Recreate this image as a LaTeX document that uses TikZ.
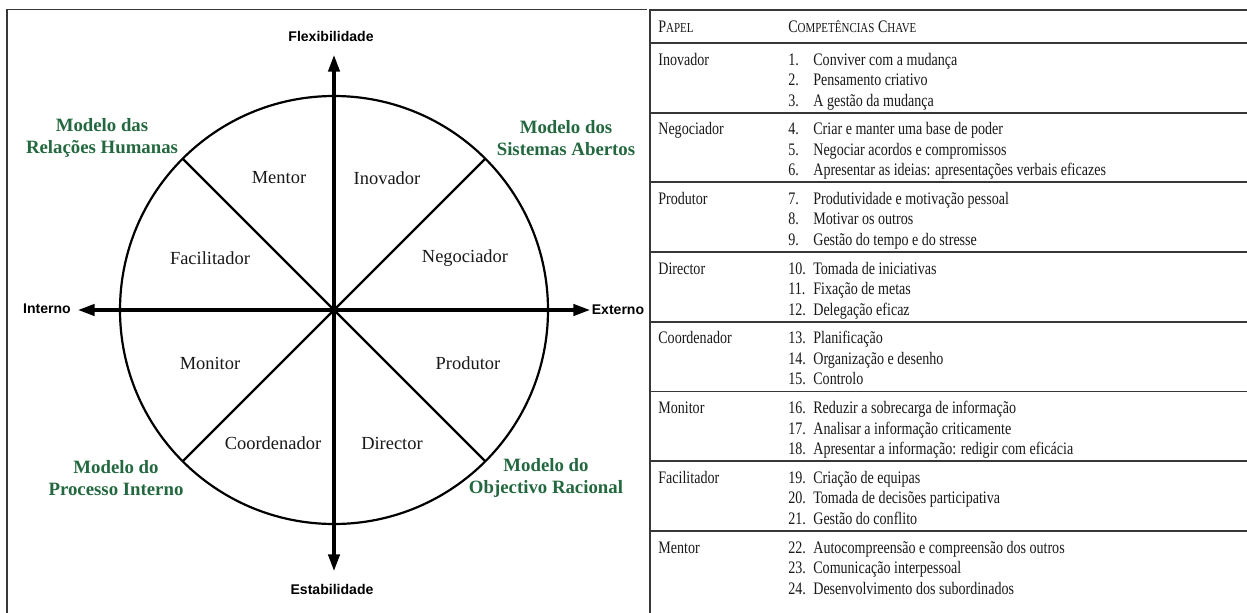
\documentclass[tikz,border=0pt]{standalone}
\usepackage{fontspec}
\setmainfont{Liberation Serif}
\newfontfamily\axisfont{Liberation Sans}
\newfontfamily\tablefont[FakeStretch=0.8]{Liberation Serif}
\usetikzlibrary{arrows.meta}
\definecolor{modelgreen}{RGB}{36,104,64}
\definecolor{inkgray}{RGB}{25,25,25}
\definecolor{rulegray}{RGB}{55,55,55}
\newcommand{\fakesc}[2]{#1{\fontsize{7.8}{9}\selectfont #2}}
\tikzset{
	frame/.style={draw=rulegray, line width=1.1pt},
	rim/.style={draw=black, line width=1.25pt},
	axis/.style={draw=black, line width=1.8pt, {Triangle[length=9.5pt,width=6.5pt]}-{Triangle[length=9.5pt,width=6.5pt]}},
	role/.style={font=\fontsize{10.5}{12}\selectfont, text=inkgray},
	model/.style={font=\fontsize{10.7}{12.5}\selectfont\bfseries, text=modelgreen, align=center},
	axislabel/.style={font=\axisfont\fontsize{8}{9}\selectfont\bfseries, text=black},
	tabcell/.style={anchor=base west, inner sep=0pt, font=\tablefont\fontsize{10}{11.7}\selectfont, text=inkgray},
	tablerule/.style={draw=rulegray, line width=1.1pt}
}

\begin{document}
\begin{tikzpicture}[x=0.02cm, y=-0.02cm]
	\useasboundingbox (0,0) rectangle (1247,612);
	\fill[white] (0,0) rectangle (1247,612);
	\clip (0,0) rectangle (1247,612);

	% left panel frame
	\draw[frame] (7,640) |- (647,9.5);

	% the wheel
	\coordinate (o) at (334,310);
	\coordinate (nw) at (182.7,158.7);
	\coordinate (ne) at (485.3,158.7);
	\coordinate (sw) at (182.7,461.3);
	\coordinate (se) at (485.3,461.3);
	\draw[rim] (o) circle[radius=214];
	\draw[rim] (nw) -- (se);
	\draw[rim] (ne) -- (sw);

	% axes
	\coordinate (top) at (334,55);
	\coordinate (bottom) at (334,571);
	\coordinate (left) at (78,310);
	\coordinate (right) at (590,310);
	\draw[axis] (left) -- (right);
	\draw[axis] (top) -- (bottom);
	\node[axislabel] (flex) at (331,36) {Flexibilidade};
	\node[axislabel] (estab) at (332,589) {Estabilidade};
	\node[axislabel] (interno) at (47,309) {Interno};
	\node[axislabel] (externo) at (618,310) {Externo};

	% roles
	\node[role] (mentor) at (279,178) {Mentor};
	\node[role] (inovador) at (387,178) {Inovador};
	\node[role] (facilitador) at (210,258) {Facilitador};
	\node[role] (negociador) at (465,258) {Negociador};
	\node[role] (monitor) at (210,363) {Monitor};
	\node[role] (produtor) at (468,363) {Produtor};
	\node[role] (coordenador) at (273,443) {Coordenador};
	\node[role] (director) at (392,443) {Director};

	% models
	\node[model] (rh) at (102,138) {Modelo das\\Relações Humanas};
	\node[model] (sa) at (566,138) {Modelo dos\\Sistemas Abertos};
	\node[model] (pi) at (116,478) {Modelo do\\Processo Interno};
	\node[model] (or) at (546,478) {Modelo do\\Objectivo Racional};

	% table frame and rules
	\draw[tablerule] (650,640) |- (1260,10);
	\draw[tablerule] (650,43) -- (1260,43);
	\draw[tablerule] (650,112.7) -- (1260,112.7);
	\draw[tablerule] (650,182.4) -- (1260,182.4);
	\draw[tablerule] (650,252) -- (1260,252);
	\draw[tablerule] (650,321.8) -- (1260,321.8);
	\draw[tablerule] (650,391.5) -- (1260,391.5);
	\draw[tablerule] (650,461) -- (1260,461);
	\draw[tablerule] (650,531) -- (1260,531);

	% table header
	\node[tabcell] (papel) at (658,32) {\fakesc{P}{APEL}};
	\node[tabcell] (comp) at (788,32) {\fakesc{C}{OMPETÊNCIAS} \fakesc{C}{HAVE}};

	% table rows
	\node[tabcell] (t-inovador) at (658,65) {Inovador};
	\node[tabcell] (k-inovador) at (788,65) {\begin{tabular}[t]{@{}p{0.5cm}@{}l@{}}
		1. & Conviver com a mudança\\
		2. & Pensamento criativo\\
		3. & A gestão da mudança
	\end{tabular}};
	\node[tabcell] (t-negociador) at (658,134.7) {Negociador};
	\node[tabcell] (k-negociador) at (788,134.7) {\begin{tabular}[t]{@{}p{0.5cm}@{}l@{}}
		4. & Criar e manter uma base de poder\\
		5. & Negociar acordos e compromissos\\
		6. & Apresentar as ideias: apresentações verbais eficazes
	\end{tabular}};
	\node[tabcell] (t-produtor) at (658,204.4) {Produtor};
	\node[tabcell] (k-produtor) at (788,204.4) {\begin{tabular}[t]{@{}p{0.5cm}@{}l@{}}
		7. & Produtividade e motivação pessoal\\
		8. & Motivar os outros\\
		9. & Gestão do tempo e do stresse
	\end{tabular}};
	\node[tabcell] (t-director) at (658,274) {Director};
	\node[tabcell] (k-director) at (788,274) {\begin{tabular}[t]{@{}p{0.5cm}@{}l@{}}
		10. & Tomada de iniciativas\\
		11. & Fixação de metas\\
		12. & Delegação eficaz
	\end{tabular}};
	\node[tabcell] (t-coordenador) at (658,343.8) {Coordenador};
	\node[tabcell] (k-coordenador) at (788,343.8) {\begin{tabular}[t]{@{}p{0.5cm}@{}l@{}}
		13. & Planificação\\
		14. & Organização e desenho\\
		15. & Controlo
	\end{tabular}};
	\node[tabcell] (t-monitor) at (658,413.5) {Monitor};
	\node[tabcell] (k-monitor) at (788,413.5) {\begin{tabular}[t]{@{}p{0.5cm}@{}l@{}}
		16. & Reduzir a sobrecarga de informação\\
		17. & Analisar a informação criticamente\\
		18. & Apresentar a informação: redigir com eficácia
	\end{tabular}};
	\node[tabcell] (t-facilitador) at (658,483) {Facilitador};
	\node[tabcell] (k-facilitador) at (788,483) {\begin{tabular}[t]{@{}p{0.5cm}@{}l@{}}
		19. & Criação de equipas\\
		20. & Tomada de decisões participativa\\
		21. & Gestão do conflito
	\end{tabular}};
	\node[tabcell] (t-mentor) at (658,553) {Mentor};
	\node[tabcell] (k-mentor) at (788,553) {\begin{tabular}[t]{@{}p{0.5cm}@{}l@{}}
		22. & Autocompreensão e compreensão dos outros\\
		23. & Comunicação interpessoal\\
		24. & Desenvolvimento dos subordinados
	\end{tabular}};
\end{tikzpicture}
\end{document}
